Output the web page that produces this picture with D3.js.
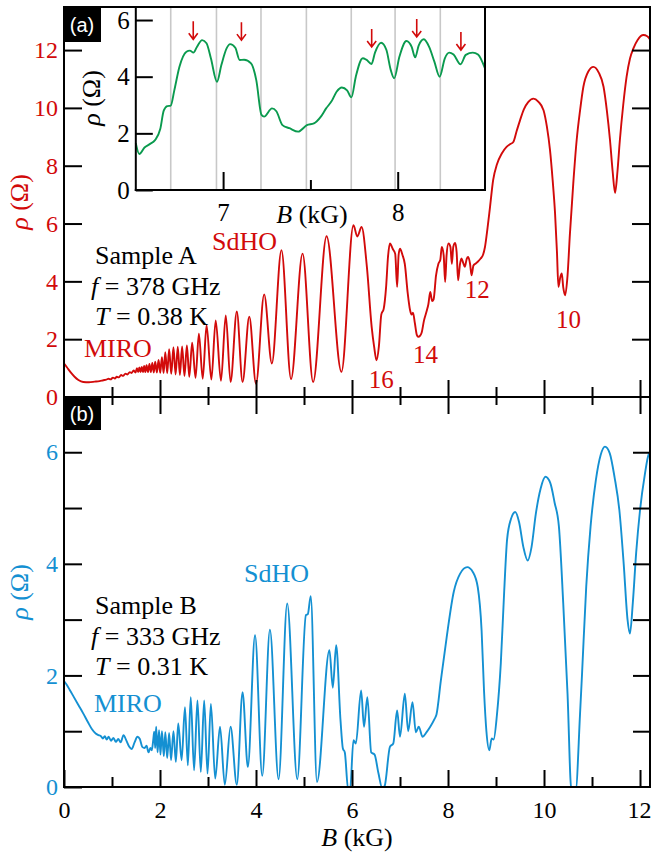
<!DOCTYPE html>
<html><head><meta charset="utf-8">
<script src="https://cdn.jsdelivr.net/npm/d3@7"></script>
<style>
body{margin:0;background:#fff}
</style></head><body>
<svg id="c" width="651" height="854" xmlns="http://www.w3.org/2000/svg"></svg>
<script>
// ---------------- data ----------------
// Panel (a): Sample A, rho vs B   [B (kG), rho (Ohm)]
const sampleA = [
[0.00,1.16],[0.06,1.03],[0.14,0.85],[0.22,0.70],[0.30,0.59],[0.40,0.52],[0.52,0.51],[0.64,0.53],[0.74,0.55],[0.82,0.58],[0.88,0.60],[0.93,0.63],[0.97,0.61],[1.02,0.67],[1.06,0.64],[1.10,0.70],[1.14,0.68],[1.19,0.76],[1.23,0.73],[1.28,0.81],[1.32,0.78],[1.37,0.86],[1.41,0.83],[1.45,0.92],[1.49,0.85],
[1.52,1.00],[1.545,0.86],[1.57,1.02],[1.595,0.86],[1.62,1.04],[1.645,0.86],[1.67,1.07],[1.695,0.86],[1.72,1.10],[1.75,0.86],[1.78,1.14],[1.81,0.86],[1.84,1.18],[1.87,0.85],[1.90,1.22],[1.935,0.85],[1.97,1.28],[2.005,0.84],[2.04,1.38],[2.075,0.83],[2.11,1.55],[2.15,0.82],[2.19,1.65],[2.235,0.80],[2.28,1.72],[2.325,0.78],[2.37,1.74],[2.415,0.76],[2.46,1.75],[2.51,0.73],[2.56,1.78],[2.61,0.70],[2.67,1.88],[2.74,0.66],[2.81,2.19],[2.89,0.63],[2.97,2.48],[3.07,0.60],[3.16,2.65],[3.27,0.56],[3.37,2.82],[3.47,0.52],[3.60,2.96],[3.72,0.52],[3.86,2.78],[4.00,0.46],[4.17,3.55],[4.33,1.16],[4.53,5.08],[4.73,0.62],[4.97,4.96],[5.19,0.52],[5.47,5.56],[5.78,0.87],[6.03,5.94],[6.11,5.55],[6.20,5.88],[6.31,4.5],[6.41,2.42],[6.46,1.75],[6.51,1.27],[6.56,1.75],[6.61,2.85],[6.66,3.05],[6.71,3.8],[6.75,4.85],[6.79,5.31],[6.85,5.12],[6.90,4.95],[6.94,3.81],[6.97,4.9],[7.00,5.13],[7.05,4.92],[7.10,4.6],[7.16,3.6],[7.21,3.0],[7.24,2.85],[7.27,2.92],[7.31,2.55],[7.35,2.15],[7.38,2.08],[7.42,2.12],[7.45,2.22],[7.50,2.65],[7.56,3.0],[7.59,3.2],[7.63,3.63],[7.67,3.32],[7.70,3.38],[7.75,4.2],[7.80,4.61],[7.84,4.75],[7.87,5.19],[7.91,4.9],[7.94,3.98],[7.97,4.9],[8.01,5.31],[8.05,5.2],[8.08,4.61],[8.11,5.2],[8.15,5.33],[8.18,5.0],[8.21,4.04],[8.25,4.6],[8.28,4.79],[8.32,4.62],[8.35,4.5],[8.39,4.78],[8.42,4.84],[8.46,4.6],[8.49,4.21],[8.53,4.55],[8.57,4.61],[8.62,4.68],[8.68,4.79],[8.73,4.92],[8.77,5.19],[8.82,5.8],[8.875,6.57],[8.94,7.5],[9.02,8.05],[9.12,8.42],[9.22,8.65],[9.30,8.75],[9.36,8.82],[9.43,9.2],[9.50,9.57],[9.58,9.95],[9.67,10.2],[9.78,10.32],[9.88,10.22],[9.99,9.92],[10.06,9.35],[10.125,8.54],[10.18,7.5],[10.23,6.35],[10.27,5.0],[10.30,3.81],[10.34,4.15],[10.37,4.27],[10.40,3.8],[10.44,3.52],[10.49,4.2],[10.54,5.65],[10.61,7.4],[10.68,8.88],[10.75,9.9],[10.82,10.73],[10.92,11.25],[11.03,11.42],[11.14,11.22],[11.24,10.73],[11.31,9.9],[11.375,8.88],[11.43,7.8],[11.48,7.06],[11.53,7.8],[11.58,8.88],[11.65,10.1],[11.72,11.07],[11.79,11.7],[11.86,12.05],[11.95,12.35],[12.07,12.52],[12.15,12.48],[12.22,12.34]
];
// Panel (b): Sample B
const sampleB = [
[0.00,1.90],[0.05,1.84],[0.12,1.74],[0.20,1.62],[0.30,1.47],[0.40,1.32],[0.50,1.16],[0.58,1.04],[0.66,0.96],[0.72,0.93],[0.77,0.91],[0.81,0.87],[0.85,0.91],[0.89,0.85],[0.93,0.90],[0.98,0.83],[1.03,0.88],[1.08,0.81],[1.13,0.86],[1.18,0.80],[1.24,0.93],[1.30,0.83],[1.36,0.72],[1.41,0.68],[1.47,0.80],[1.53,0.90],[1.58,0.86],[1.63,0.72],[1.68,0.70],[1.72,0.74],[1.76,0.62],[1.80,0.70],[1.83,0.66],[1.86,0.85],[1.88,0.99],[1.90,0.70],[1.92,1.08],[1.95,0.62],[1.98,1.02],[2.01,0.58],[2.04,1.00],[2.08,0.55],[2.11,0.98],[2.15,0.52],[2.19,0.97],[2.23,0.48],[2.28,1.00],[2.33,0.45],[2.38,1.14],[2.45,0.48],[2.52,1.43],[2.58,0.39],[2.64,1.61],[2.71,0.30],[2.78,1.55],[2.85,0.27],[2.92,1.55],[2.99,0.24],[3.06,1.49],[3.15,0.15],[3.25,1.08],[3.35,0.04],[3.47,1.08],[3.60,0.04],[3.72,1.70],[3.83,0.36],[3.98,2.72],[4.13,0.20],[4.29,2.82],[4.47,0.14],[4.65,3.29],[4.86,0.14],[5.04,3.08],[5.08,3.10],[5.14,3.42],[5.27,0.09],[5.53,2.45],[5.60,1.78],[5.67,2.54],[5.76,1.20],[5.81,0.69],[5.85,0.62],[5.92,-0.05],[5.96,-0.05],[6.03,0.84],[6.08,0.78],[6.19,1.73],[6.25,1.08],[6.32,1.61],[6.40,0.62],[6.47,0.58],[6.55,0.25],[6.63,-0.02],[6.68,0.02],[6.79,0.72],[6.86,0.78],[6.94,1.37],[7.00,0.90],[7.10,1.67],[7.17,1.00],[7.26,1.52],[7.33,0.98],[7.39,1.08],[7.47,0.90],[7.55,0.98],[7.63,1.08],[7.72,1.22],[7.76,1.30],[7.85,1.90],[7.97,2.67],[8.12,3.50],[8.25,3.82],[8.40,3.94],[8.52,3.85],[8.62,3.58],[8.70,2.80],[8.75,1.73],[8.80,1.00],[8.86,0.66],[8.91,0.87],[8.95,0.85],[9.02,1.30],[9.10,2.22],[9.17,3.50],[9.23,4.43],[9.31,4.80],[9.40,4.93],[9.48,4.75],[9.57,4.30],[9.66,4.06],[9.74,4.30],[9.83,4.90],[9.93,5.35],[10.03,5.56],[10.13,5.45],[10.22,5.10],[10.31,4.67],[10.40,3.30],[10.49,1.67],[10.57,-0.05],[10.66,-0.05],[10.75,1.30],[10.79,1.99],[10.88,3.60],[10.97,4.67],[11.08,5.50],[11.18,5.95],[11.27,6.10],[11.37,5.98],[11.47,5.55],[11.57,4.96],[11.66,4.00],[11.74,3.00],[11.79,2.75],[11.85,3.30],[11.92,4.20],[12.00,4.96],[12.10,5.60],[12.18,5.96],[12.22,6.00]
];
// Inset of panel (a)
const insetTrace = [
[6.50,1.65],[6.52,1.27],[6.55,1.50],[6.58,1.62],[6.61,1.76],[6.64,2.15],[6.66,2.80],[6.68,2.96],[6.70,2.98],[6.72,3.50],[6.75,4.35],[6.79,4.88],[6.81,4.92],[6.83,4.85],[6.85,5.05],[6.88,5.29],[6.905,5.18],[6.93,4.65],[6.965,3.82],[6.99,4.41],[7.02,5.00],[7.04,5.15],[7.07,5.02],[7.095,4.59],[7.12,4.60],[7.16,4.47],[7.19,3.88],[7.22,2.65],[7.235,2.59],[7.28,2.88],[7.305,2.78],[7.34,2.29],[7.38,2.18],[7.43,2.06],[7.48,2.29],[7.52,2.35],[7.56,2.59],[7.59,2.88],[7.62,3.12],[7.65,3.47],[7.68,3.62],[7.71,3.52],[7.735,3.27],[7.76,4.00],[7.80,4.65],[7.82,4.60],[7.85,4.45],[7.87,4.85],[7.905,5.20],[7.935,4.95],[7.96,4.24],[7.98,3.94],[8.01,4.71],[8.05,5.26],[8.08,5.05],[8.10,4.68],[8.12,5.10],[8.15,5.32],[8.18,5.05],[8.21,4.53],[8.24,4.00],[8.27,4.65],[8.295,4.85],[8.32,4.78],[8.36,4.44],[8.39,4.77],[8.43,4.85],[8.46,4.78],[8.50,4.29]
];
const insetGridB = [6.70, 6.962, 7.217, 7.477, 7.734, 7.985, 8.244];
const arrowB   = [6.829, 7.105, 7.851, 8.109, 8.362];
const arrowTip = [5.32, 5.29, 5.05, 5.40, 4.94];

// ticks / labels
const xMajor = [0, 2, 4, 6, 8, 10, 12];
const xMinor = [1, 3, 5, 7, 9, 11];
const yTicksA = [0, 2, 4, 6, 8, 10, 12];
const yTicksB = [0, 1, 2, 3, 4, 5, 6];
const yLabelsB = [0, 2, 4, 6];
const insetXMajor = [7, 8];
const insetXMinor = [7.5];
const insetYTicks = [0, 2, 4, 6];
const minimaLabels = [{t:"16",x:6.35,y:388},{t:"14",x:7.27,y:363},{t:"12",x:8.35,y:298},{t:"10",x:10.25,y:328}];

// ---------------- drawing ----------------
const red = "#d20a0a", blue = "#1490d2", green = "#0a9a4e";
const serif = "'Liberation Serif','Times New Roman',serif";
const sans = "'Liberation Sans',Arial,sans-serif";
const fmt = d3.format("d");
const svg = d3.select("#c");
const L = 64, R = 650, Ta = 7, Ba = 397, Bb = 787;

const x  = d3.scaleLinear().domain([0, 12.208]).range([L, R]);
const ya = d3.scaleLinear().domain([0, 13.49]).range([Ba, Ta]);
const yb = d3.scaleLinear().domain([0, 6.99]).range([Bb, Ba]);

const defs = svg.append("defs");
defs.append("clipPath").attr("id","clipA").append("rect").attr("x",L).attr("y",Ta).attr("width",R-L).attr("height",Ba-Ta);
defs.append("clipPath").attr("id","clipB").append("rect").attr("x",L).attr("y",Ba).attr("width",R-L).attr("height",Bb-Ba);

function styleAxis(sel, color, fs){
  sel.attr("font-family", serif).attr("font-size", fs).attr("color", color);
  sel.select(".domain").remove();
  sel.selectAll(".tick line").attr("stroke","#000").attr("stroke-width",2);
  sel.selectAll(".tick text").attr("fill", color);
}

// curves
const lineA = d3.line().x(d=>x(d[0])).y(d=>ya(d[1])).curve(d3.curveMonotoneX);
const lineB = d3.line().x(d=>x(d[0])).y(d=>yb(d[1])).curve(d3.curveMonotoneX);
svg.append("path").attr("clip-path","url(#clipA)").attr("d", lineA(sampleA))
  .attr("fill","none").attr("stroke",red).attr("stroke-width",1.9).attr("stroke-linejoin","round");
svg.append("path").attr("clip-path","url(#clipB)").attr("d", lineB(sampleB))
  .attr("fill","none").attr("stroke",blue).attr("stroke-width",1.9).attr("stroke-linejoin","round");

// axes panel a
svg.append("g").attr("transform",`translate(${L},0)`)
  .call(d3.axisLeft(ya).tickValues(yTicksA).tickSizeInner(-18).tickSizeOuter(0).tickPadding(6).tickFormat(fmt))
  .call(styleAxis, red, 24);
svg.append("g").attr("transform",`translate(${R},0)`)
  .call(d3.axisRight(ya).tickValues(yTicksA.slice(1)).tickSizeInner(-18).tickSizeOuter(0).tickFormat(""))
  .call(styleAxis, "#000", 24);
svg.append("g").attr("transform",`translate(0,${Ba})`)
  .call(d3.axisBottom(x).tickValues(xMajor.slice(1)).tickSizeInner(-17).tickSizeOuter(0).tickFormat(""))
  .call(styleAxis, "#000", 24);
svg.append("g").attr("transform",`translate(0,${Ba})`)
  .call(d3.axisBottom(x).tickValues(xMinor).tickSizeInner(-10).tickSizeOuter(0).tickFormat(""))
  .call(styleAxis, "#000", 24);
// axes panel b
svg.append("g").attr("transform",`translate(0,${Ba})`)
  .call(d3.axisTop(x).tickValues(xMajor.slice(1)).tickSizeInner(-17).tickSizeOuter(0).tickFormat(""))
  .call(styleAxis, "#000", 24);
svg.append("g").attr("transform",`translate(0,${Ba})`)
  .call(d3.axisTop(x).tickValues(xMinor).tickSizeInner(-8).tickSizeOuter(0).tickFormat(""))
  .call(styleAxis, "#000", 24);
svg.append("g").attr("transform",`translate(${L},0)`)
  .call(d3.axisLeft(yb).tickValues(yTicksB).tickSizeInner(-18).tickSizeOuter(0).tickPadding(6)
        .tickFormat(d => yLabelsB.includes(d) ? fmt(d) : ""))
  .call(styleAxis, blue, 24);
svg.append("g").attr("transform",`translate(${R},0)`)
  .call(d3.axisRight(yb).tickValues(yTicksB.slice(1)).tickSizeInner(-17).tickSizeOuter(0).tickFormat(""))
  .call(styleAxis, "#000", 24);
const xb = svg.append("g").attr("transform",`translate(0,${Bb})`)
  .call(d3.axisBottom(x).tickValues(xMajor).tickSizeInner(-17).tickSizeOuter(0).tickPadding(14).tickFormat(fmt))
  .call(styleAxis, "#000", 24);
// last label sits against the right edge, as in the figure
xb.selectAll(".tick text").filter(d => d === 12)
  .attr("text-anchor","end").attr("x", R + 1 - x(12));
svg.append("g").attr("transform",`translate(0,${Bb})`)
  .call(d3.axisBottom(x).tickValues(xMinor).tickSizeInner(-10).tickSizeOuter(0).tickFormat(""))
  .call(styleAxis, "#000", 24);

// frame
const frame = svg.append("g").attr("stroke","#000").attr("stroke-width",2).attr("stroke-linecap","square");
frame.append("line").attr("x1",L).attr("x2",L).attr("y1",Ta).attr("y2",Bb);
frame.append("line").attr("x1",R).attr("x2",R).attr("y1",Ta).attr("y2",Bb);
frame.append("line").attr("x1",L).attr("x2",R).attr("y1",Ta).attr("y2",Ta);
frame.append("line").attr("x1",L).attr("x2",R).attr("y1",Ba).attr("y2",Ba);
frame.append("line").attr("x1",L).attr("x2",R).attr("y1",Bb).attr("y2",Bb);

// axis titles
function rhoLabel(cx, cy, color){
  const t = svg.append("text").attr("transform",`translate(${cx},${cy}) rotate(-90)`)
    .attr("text-anchor","middle").attr("font-family",serif).attr("font-size",26).attr("fill",color);
  t.append("tspan").attr("font-style","italic").text("ρ");
  t.append("tspan").text(" (Ω)");
}
rhoLabel(28, (Ta+Ba)/2, red);
rhoLabel(28, (Ba+Bb)/2, blue);
function bLabel(cx, by){
  const t = svg.append("text").attr("x",cx).attr("y",by).attr("text-anchor","middle")
    .attr("font-family",serif).attr("font-size",26).attr("fill","#000");
  t.append("tspan").attr("font-style","italic").text("B");
  t.append("tspan").text(" (kG)");
}
bLabel((L+R)/2, 846);

// panel (b) tag
svg.append("rect").attr("x",63).attr("y",Ba).attr("width",38).attr("height",33).attr("fill","#000");
svg.append("text").attr("x",82).attr("y",Ba+33/2+7).attr("text-anchor","middle")
  .attr("font-family",sans).attr("font-size",20).attr("fill","#fff").text("(b)");

// annotations
function sampleText(y0, name, f, T){
  const g = svg.append("g").attr("font-family",serif).attr("font-size",26).attr("fill","#000");
  g.append("text").attr("x",95).attr("y",y0).text(name);
  const t2 = g.append("text").attr("x",91).attr("y",y0+31);
  t2.append("tspan").attr("font-style","italic").text("f");
  t2.append("tspan").text(" = " + f);
  const t3 = g.append("text").attr("x",95).attr("y",y0+61);
  t3.append("tspan").attr("font-style","italic").text("T");
  t3.append("tspan").text(" = " + T);
}
sampleText(264, "Sample A", "378 GHz", "0.38 K");
sampleText(614, "Sample B", "333 GHz", "0.31 K");
const ann = svg.append("g").attr("font-family",serif).attr("font-size",26);
ann.append("text").attr("x",84).attr("y",357).attr("fill",red).text("MIRO");
ann.append("text").attr("x",212).attr("y",250).attr("fill",red).text("SdHO");
ann.append("text").attr("x",94).attr("y",712).attr("fill",blue).text("MIRO");
ann.append("text").attr("x",244).attr("y",582).attr("fill",blue).text("SdHO");
minimaLabels.forEach(m=>{
  ann.append("text").attr("x",x(m.x)).attr("y",m.y).attr("fill",red).attr("font-size",25).text(m.t);
});

// ---------------- inset ----------------
const ix = d3.scaleLinear().domain([6.5, 8.5]).range([135.8, 485]);
const iy = d3.scaleLinear().domain([0, 6.46]).range([190, 7]);
svg.append("rect").attr("x",102).attr("y",8).attr("width",383).attr("height",182).attr("fill","#fff");
svg.append("g").selectAll("line").data(insetGridB).join("line")
  .attr("x1",d=>ix(d)).attr("x2",d=>ix(d)).attr("y1",iy(0)).attr("y2",Ta)
  .attr("stroke","#c8c8c8").attr("stroke-width",1.6);
const lineI = d3.line().x(d=>ix(d[0])).y(d=>iy(d[1])).curve(d3.curveMonotoneX);
svg.append("path").attr("d", lineI(insetTrace)).attr("fill","none").attr("stroke",green)
  .attr("stroke-width",1.9).attr("stroke-linejoin","round");
// arrows
const arr = svg.append("g").attr("stroke",red).attr("stroke-width",1.6).attr("fill","none");
arrowB.forEach((b,i)=>{
  const px = ix(b), tip = iy(arrowTip[i]), top = tip - 18;
  arr.append("path").attr("d",`M${px},${top}V${tip}M${px-4.5},${tip-6}L${px},${tip}L${px+4.5},${tip-6}`);
});
svg.append("g").attr("transform",`translate(${ix(6.5)},0)`)
  .call(d3.axisLeft(iy).tickValues(insetYTicks).tickSizeInner(-17).tickSizeOuter(0).tickPadding(6).tickFormat(fmt))
  .call(styleAxis, "#000", 25);
svg.append("g").attr("transform",`translate(0,${iy(0)})`)
  .call(d3.axisBottom(ix).tickValues(insetXMajor).tickSizeInner(-18).tickSizeOuter(0).tickPadding(13).tickFormat(fmt))
  .call(styleAxis, "#000", 25);
svg.append("g").attr("transform",`translate(0,${iy(0)})`)
  .call(d3.axisBottom(ix).tickValues(insetXMinor).tickSizeInner(-10).tickSizeOuter(0).tickFormat(""))
  .call(styleAxis, "#000", 25);
const iframe = svg.append("g").attr("stroke","#000").attr("stroke-width",2).attr("stroke-linecap","square");
iframe.append("line").attr("x1",ix(6.5)).attr("x2",ix(6.5)).attr("y1",Ta).attr("y2",iy(0));
iframe.append("line").attr("x1",ix(8.5)).attr("x2",ix(8.5)).attr("y1",Ta).attr("y2",iy(0));
iframe.append("line").attr("x1",ix(6.5)).attr("x2",ix(8.5)).attr("y1",iy(0)).attr("y2",iy(0));
iframe.append("line").attr("x1",ix(6.5)).attr("x2",ix(8.5)).attr("y1",Ta).attr("y2",Ta);
rhoLabel(100, 98, "#000");
bLabel(312, 223);
// panel (a) tag, on top of the inset background
svg.append("rect").attr("x",63).attr("y",Ta).attr("width",38).attr("height",35).attr("fill","#000");
svg.append("text").attr("x",82).attr("y",Ta+35/2+7).attr("text-anchor","middle")
  .attr("font-family",sans).attr("font-size",20).attr("fill","#fff").text("(a)");
</script>
</body></html>
